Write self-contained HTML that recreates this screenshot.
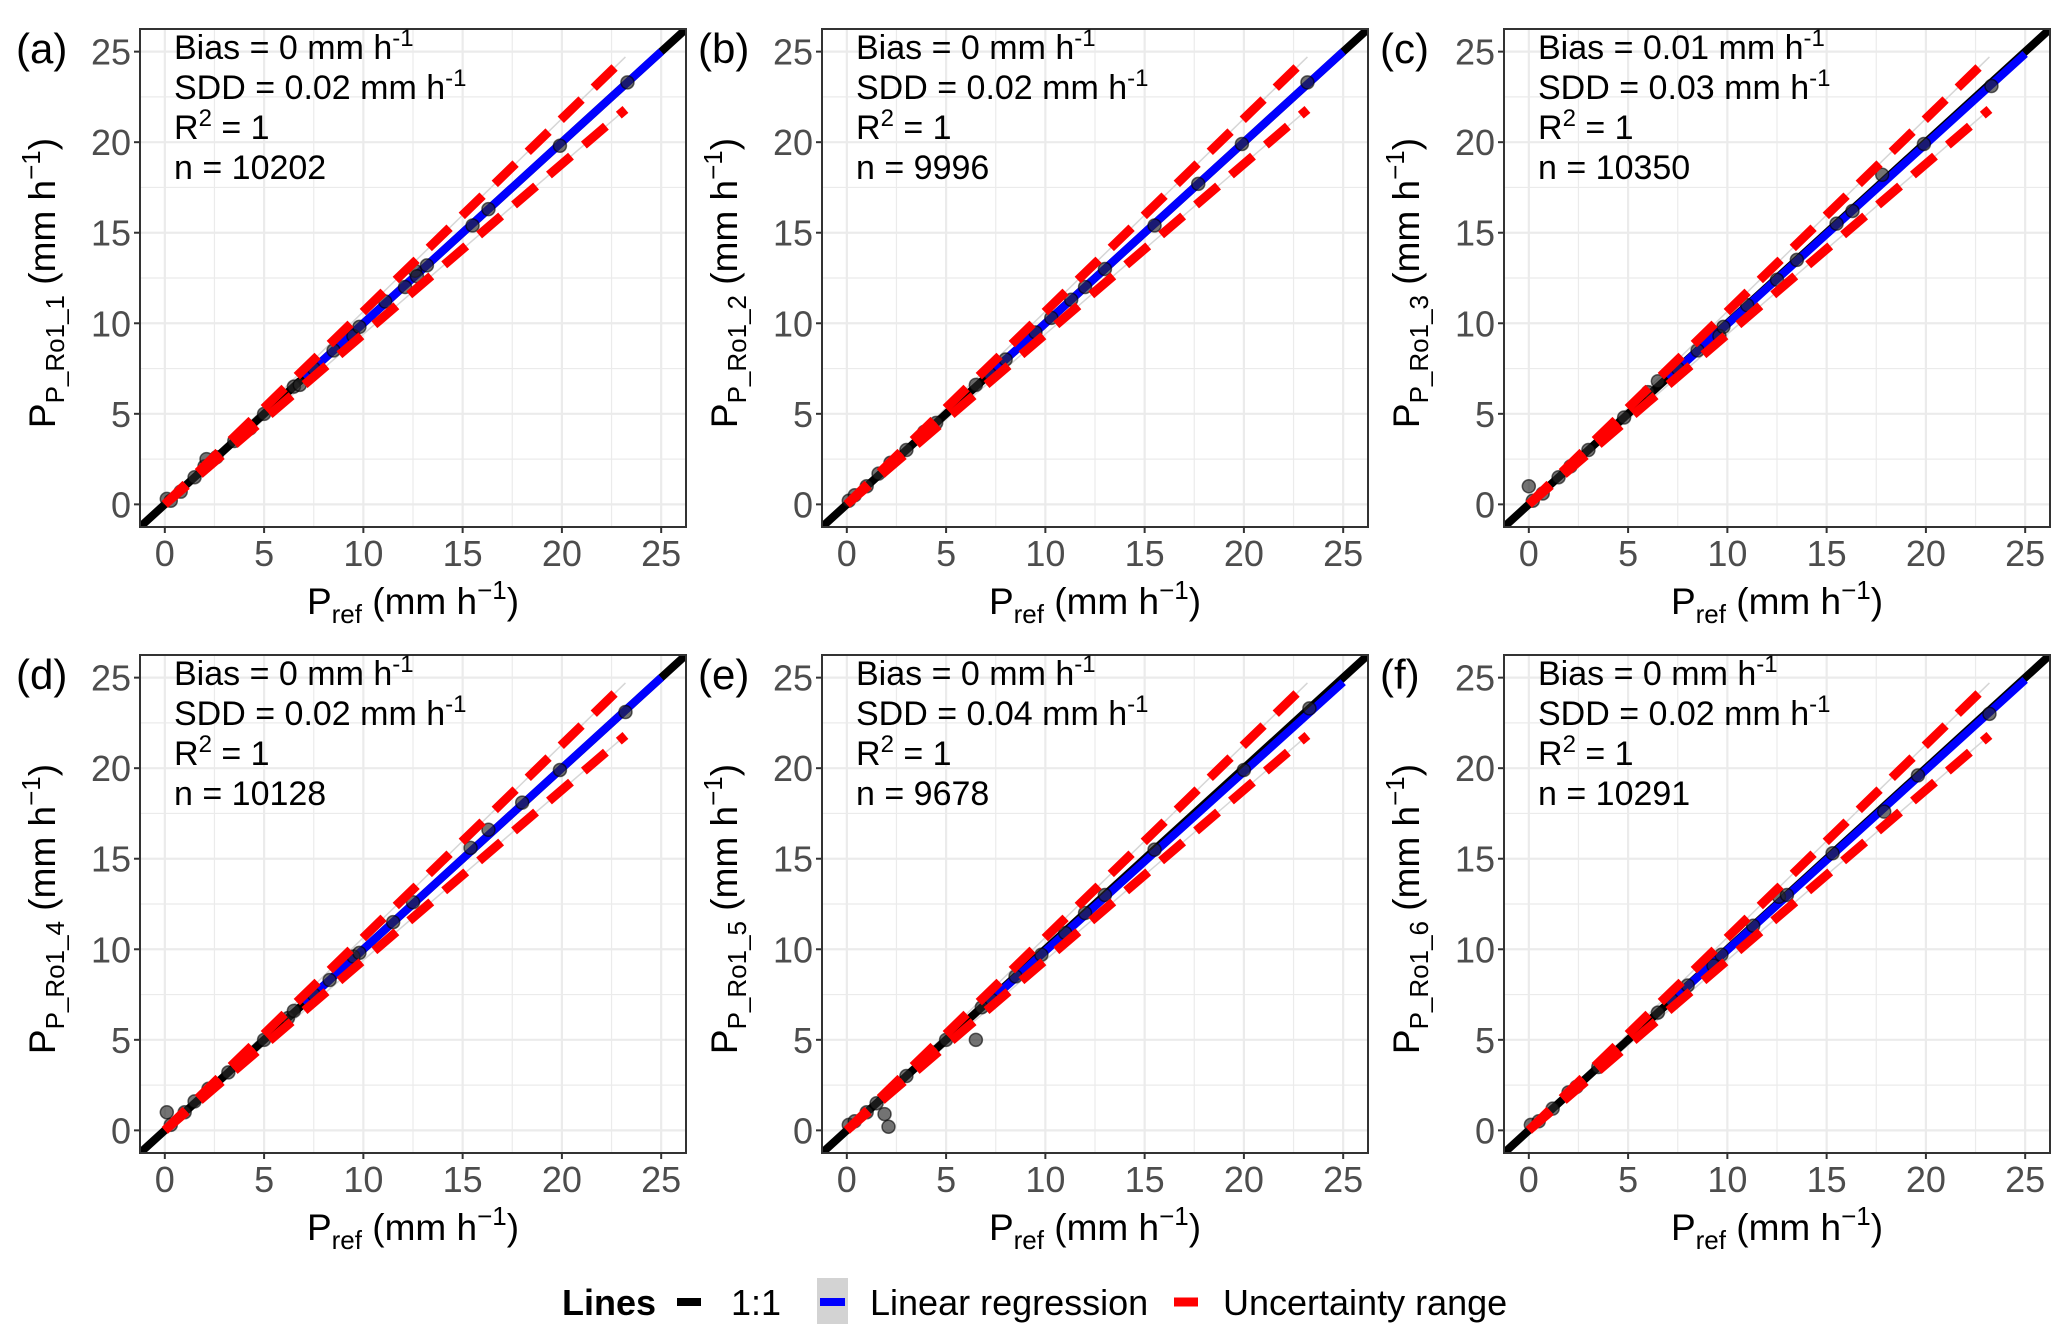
<!DOCTYPE html>
<html><head><meta charset="utf-8"><style>
html,body{margin:0;padding:0;background:#fff}
svg{display:block;font-family:"Liberation Sans",Arial,sans-serif}
</style></head><body>
<svg id="fig" width="2067" height="1341" viewBox="0 0 2067 1341" xmlns="http://www.w3.org/2000/svg"></svg>
<script>
const panelLabels=["(a)","(b)","(c)","(d)","(e)","(f)"];
const yNames=["P_Ro1_1","P_Ro1_2","P_Ro1_3","P_Ro1_4","P_Ro1_5","P_Ro1_6"];
const biasVals=["0","0","0.01","0","0","0"];
const sddVals=["0.02","0.02","0.03","0.02","0.04","0.02"];
const r2Vals=["1","1","1","1","1","1"];
const nVals=["10202","9996","10350","10128","9678","10291"];
const tickVals=[0,5,10,15,20,25];
const slopes=[1.0,1.0,0.995,1.0,0.99,0.995];
const upperFactor=1.065, lowerFactor=0.94, uncMax=23.2;
const ptsX=[[0.1,0.3,0.8,1.5,2.0,2.1,2.6,3.5,4.0,4.3,5.0,6.5,6.8,7.5,8.5,9.5,9.8,11.1,12.1,12.6,12.7,13.2,15.5,16.3,19.9,23.3],
[0.1,0.4,1.0,1.6,2.2,3.0,3.9,4.5,5.5,6.5,7.2,8.0,9.5,10.3,11.3,12.0,13.0,15.5,17.7,19.9,23.2],
[0.0,0.2,0.7,1.5,2.1,3.0,4.0,4.8,6.0,6.5,7.5,8.5,9.6,9.8,11.0,12.5,13.5,15.5,16.3,17.8,19.9,23.3],
[0.1,0.3,1.0,1.5,2.2,3.2,4.0,5.0,6.2,6.5,7.5,8.3,9.5,9.8,11.5,12.5,15.4,16.3,18.0,19.9,23.2],
[0.1,0.4,1.0,1.5,1.9,2.1,3.0,4.3,5.0,6.5,6.8,7.3,8.5,9.8,11.0,12.0,13.0,15.5,20.0,23.3],
[0.1,0.5,1.2,2.0,2.4,3.5,4.2,5.5,6.5,7.2,8.0,9.3,9.7,11.3,12.6,13.0,15.3,17.9,19.6,23.2]];
const ptsY=[[0.3,0.2,0.7,1.5,2.1,2.5,2.6,3.5,4.0,4.2,5.0,6.5,6.6,7.5,8.5,9.3,9.8,11.2,12.0,12.9,12.6,13.2,15.4,16.3,19.8,23.3],
[0.2,0.5,1.0,1.7,2.3,3.0,4.0,4.5,5.5,6.6,7.2,8.0,9.5,10.3,11.3,12.0,13.0,15.4,17.7,19.9,23.3],
[1.0,0.2,0.6,1.5,2.1,3.0,4.0,4.8,6.2,6.8,7.5,8.5,9.3,9.8,11.0,12.4,13.5,15.5,16.2,18.2,19.9,23.1],
[1.0,0.3,1.0,1.6,2.3,3.2,4.0,5.0,6.2,6.6,7.5,8.3,9.6,9.8,11.5,12.6,15.6,16.6,18.1,19.9,23.1],
[0.3,0.5,1.0,1.5,0.9,0.2,3.0,4.3,5.0,5.0,6.8,7.2,8.5,9.7,10.9,12.0,13.0,15.5,19.9,23.3],
[0.3,0.5,1.2,2.1,2.4,3.5,4.2,5.5,6.5,7.2,8.0,9.1,9.7,11.3,12.9,13.0,15.3,17.6,19.6,23.0]];

const NS="http://www.w3.org/2000/svg";
const svg=document.getElementById('fig');
function mk(tag,attrs,parent){const e=document.createElementNS(NS,tag);for(const k in attrs)e.setAttribute(k,attrs[k]);(parent||svg).appendChild(e);return e;}
const colL=[140,822,1504], rowT=[29,655], PW=546, PH=498, dMin=-1.25, dMax=26.25;

for(let p=0;p<6;p++){
  const L=colL[p%3], T=rowT[Math.floor(p/3)];
  const sx=v=>L+(v-dMin)/(dMax-dMin)*PW;
  const sy=v=>T+PH-(v-dMin)/(dMax-dMin)*PH;
  const g=mk('g',{});
  
  
  const cid='clip'+p;
  const cp=mk('clipPath',{id:cid},g);mk('rect',{x:L,y:T,width:PW,height:PH},cp);
  for(let v=0;v<=25;v+=2.5){
    const major=(v%5===0);
    const gx=mk('line',{x1:sx(v),x2:sx(v),y1:T,y2:T+PH,stroke:'#ebebeb','stroke-width':major?2.2:1.2},g);
    
    const gy=mk('line',{x1:L,x2:L+PW,y1:sy(v),y2:sy(v),stroke:'#ebebeb','stroke-width':major?2.2:1.2},g);
    
  }
  const inner=mk('g',{'clip-path':'url(#'+cid+')'},g);
  const gu=mk('line',{x1:sx(0),y1:sy(0),x2:sx(uncMax),y2:sy(uncMax*upperFactor),stroke:'#d6d6d6','stroke-width':1.5},inner);
  
  const gl=mk('line',{x1:sx(0),y1:sy(0),x2:sx(uncMax),y2:sy(uncMax*lowerFactor),stroke:'#d6d6d6','stroke-width':1.5},inner);
  
  const one=mk('line',{x1:sx(dMin),y1:sy(dMin),x2:sx(dMax),y2:sy(dMax),stroke:'#000','stroke-width':8},inner);
  
  const reg=mk('line',{x1:sx(7),y1:sy(7*slopes[p]),x2:sx(25),y2:sy(25*slopes[p]),stroke:'#0000ff','stroke-width':8},inner);
  
  for(let i=0;i<ptsX[p].length;i++){
    const c=mk('circle',{cx:sx(ptsX[p][i]),cy:sy(ptsY[p][i]),r:6.5,fill:'rgba(40,40,40,0.65)',stroke:'rgba(0,0,0,0.6)','stroke-width':1.5},inner);
    
  }
  const uu=mk('line',{x1:sx(0),y1:sy(0),x2:sx(uncMax),y2:sy(uncMax*upperFactor),stroke:'#ff0000','stroke-width':9,'stroke-dasharray':'29 17'},inner);
  
  const ul=mk('line',{x1:sx(0),y1:sy(0),x2:sx(uncMax),y2:sy(uncMax*lowerFactor),stroke:'#ff0000','stroke-width':9,'stroke-dasharray':'29 17'},inner);
  
  const b=mk('rect',{x:L,y:T,width:PW,height:PH,fill:'none',stroke:'#333','stroke-width':2},g);
  
  for(const v of tickVals){
    mk('line',{x1:sx(v),x2:sx(v),y1:T+PH,y2:T+PH+6,stroke:'#333','stroke-width':2},g);
    mk('line',{x1:L-6,x2:L,y1:sy(v),y2:sy(v),stroke:'#333','stroke-width':2},g);
    const tx=mk('text',{x:sx(v),y:T+PH+39,'font-size':36,fill:'#4d4d4d','text-anchor':'middle'},g);
    tx.textContent=v;
    const ty=mk('text',{x:L-9,y:sy(v)+13,'font-size':36,fill:'#4d4d4d','text-anchor':'end'},g);
    ty.textContent=v;
  }
  const xt=mk('text',{x:L+PW/2,y:T+PH+87,'font-size':37,'text-anchor':'middle',fill:'#000'},g);
  xt.innerHTML='P<tspan font-size="26" dy="9">ref</tspan><tspan dy="-9"> (mm h</tspan><tspan font-size="26" dy="-15">−1</tspan><tspan dy="15">)</tspan>';
  
  const yt=mk('text',{x:0,y:0,'font-size':37,'text-anchor':'middle',fill:'#000',transform:'translate('+(L-85)+','+(T+PH/2+5)+') rotate(-90)'},g);
  yt.innerHTML='P<tspan font-size="26" dy="9">'+yNames[p]+'</tspan><tspan dy="-9"> (mm h</tspan><tspan font-size="26" dy="-15">−1</tspan><tspan dy="15">)</tspan>';
  
  const pl=mk('text',{x:L-124,y:T+34,'font-size':42,fill:'#000'},g);
  pl.textContent=panelLabels[p];
  const lines=['Bias = '+biasVals[p]+' mm h<tspan font-size="24" dy="-13">-1</tspan>',
    'SDD = '+sddVals[p]+' mm h<tspan font-size="24" dy="-13">-1</tspan>',
    'R<tspan font-size="24" dy="-13">2</tspan><tspan dy="13"> = '+r2Vals[p]+'</tspan>',
    'n = '+nVals[p]];
  const names=['bias-annotation','sdd-annotation','r2-annotation','n-annotation'];
  for(let i=0;i<4;i++){
    const a=mk('text',{x:L+34,y:T+30+i*40,'font-size':34,fill:'#000'},g);
    a.innerHTML=lines[i];
    
  }
}
const lg=mk('g',{});

const lt=mk('text',{x:562,y:1315,'font-size':36,'font-weight':'bold',fill:'#000'},lg);lt.textContent='Lines';

const k1=mk('line',{x1:677,x2:701,y1:1302,y2:1302,stroke:'#000','stroke-width':8},lg);

const t1=mk('text',{x:731,y:1315,'font-size':36,fill:'#000'},lg);t1.textContent='1:1';

mk('rect',{x:817,y:1278,width:31,height:46,fill:'#d3d3d3'},lg);
const k2=mk('line',{x1:820,x2:845,y1:1302,y2:1302,stroke:'#0000ff','stroke-width':8},lg);

const t2=mk('text',{x:870,y:1315,'font-size':36,fill:'#000'},lg);t2.textContent='Linear regression';

const k3=mk('line',{x1:1174,x2:1198,y1:1302,y2:1302,stroke:'#ff0000','stroke-width':9},lg);

const t3=mk('text',{x:1223,y:1315,'font-size':36,fill:'#000'},lg);t3.textContent='Uncertainty range';

</script>
</body></html>
